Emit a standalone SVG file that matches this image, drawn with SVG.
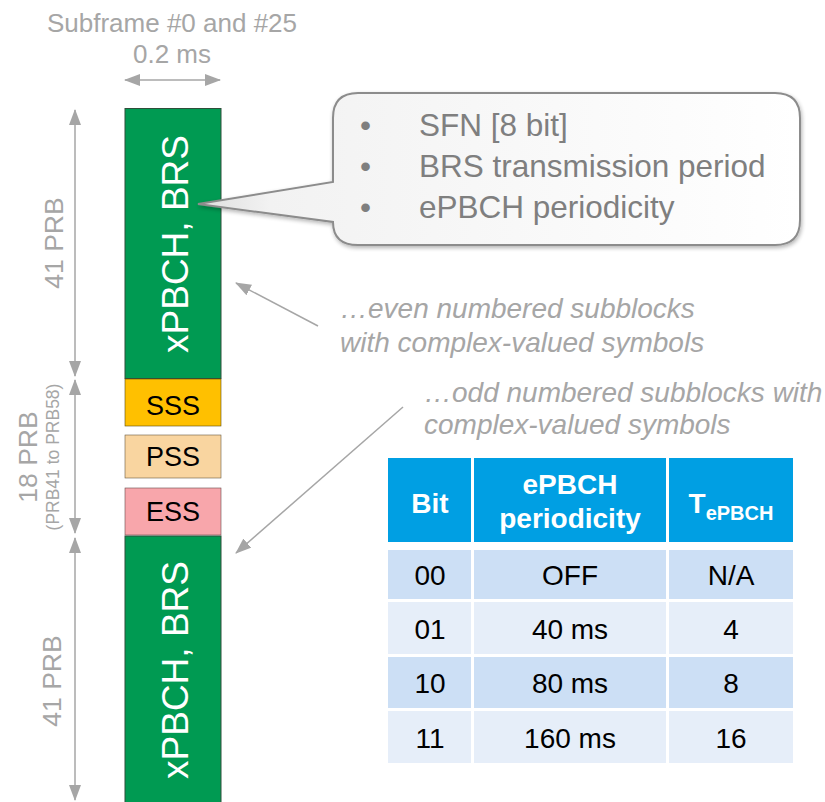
<svg xmlns="http://www.w3.org/2000/svg" width="825" height="802" viewBox="0 0 825 802">
<style>
.dim{fill:#A6A6A6;font-family:"Liberation Sans",Arial,sans-serif}
.dline{stroke:#A6A6A6;stroke-width:1.5;fill:none}
.ann{fill:#A6A6A6;font-family:"Liberation Sans",Arial,sans-serif;font-style:italic;font-size:28px}
.lbl{font-family:"Liberation Sans",Arial,sans-serif}
.green{fill:#009A52;stroke:#2f4f3a;stroke-width:1}
.cell{font-family:"Liberation Sans",Arial,sans-serif;font-size:28px;fill:#000;text-anchor:middle}
.hd{font-family:"Liberation Sans",Arial,sans-serif;font-weight:bold;font-size:28px;fill:#fff;text-anchor:middle}
.co{font-family:"Liberation Sans",Arial,sans-serif;font-size:31.5px;fill:#7F7F7F}
</style>
<defs>
<marker id="ah" viewBox="0 0 16 12" refX="15" refY="6" markerWidth="16" markerHeight="12" markerUnits="userSpaceOnUse" orient="auto-start-reverse">
<path d="M0,0 L16,6 L0,12 Z" fill="#A6A6A6"/>
</marker>
<linearGradient id="cg" x1="0" y1="0" x2="1" y2="0">
<stop offset="0" stop-color="#dedede"/>
<stop offset="0.12" stop-color="#f2f2f2"/>
<stop offset="1" stop-color="#ffffff"/>
</linearGradient>
<filter id="sh" x="-10%" y="-10%" width="120%" height="130%">
<feGaussianBlur in="SourceAlpha" stdDeviation="2"/>
<feOffset dx="1" dy="2" result="b"/>
<feComponentTransfer><feFuncA type="linear" slope="0.3"/></feComponentTransfer>
<feMerge><feMergeNode/><feMergeNode in="SourceGraphic"/></feMerge>
</filter>
</defs>

<g id="header-labels">
<text class="dim" x="172" y="32" font-size="26" text-anchor="middle">Subframe #0 and #25</text>
<text class="dim" x="172" y="63" font-size="26" text-anchor="middle">0.2 ms</text>
</g>

<g id="connectors">
<line class="dline" x1="125" y1="80" x2="220" y2="80" marker-start="url(#ah)" marker-end="url(#ah)"/>
<line class="dline" x1="75" y1="110" x2="75" y2="376" marker-start="url(#ah)" marker-end="url(#ah)"/>
<line class="dline" x1="75" y1="380" x2="75" y2="533" marker-start="url(#ah)" marker-end="url(#ah)"/>
<line class="dline" x1="75" y1="538" x2="75" y2="800" marker-start="url(#ah)" marker-end="url(#ah)"/>
<line class="dline" x1="318" y1="326" x2="236" y2="283" marker-end="url(#ah)"/>
<line class="dline" x1="403" y1="407" x2="236" y2="553" marker-end="url(#ah)"/>
</g>

<g id="dim-labels">
<text class="dim" font-size="26.5" text-anchor="middle" transform="translate(63,243) rotate(-90)">41 PRB</text>
<text class="dim" font-size="26.5" text-anchor="middle" transform="translate(37,457) rotate(-90)">18 PRB</text>
<text class="dim" font-size="17.5" text-anchor="middle" transform="translate(59,457) rotate(-90)">(PRB41 to PRB58)</text>
<text class="dim" font-size="26.5" text-anchor="middle" transform="translate(61,681) rotate(-90)">41 PRB</text>
</g>

<g id="block-top">
<rect class="green" x="125" y="108.5" width="96" height="270"/>
<text class="lbl" font-size="37" fill="#fff" text-anchor="middle" transform="translate(188,244) rotate(-90)">xPBCH, BRS</text>
</g>
<g id="block-sss">
<rect x="125" y="379" width="96" height="47" fill="#FFC000" stroke="#5a4a10" stroke-width="0.6"/>
<text class="lbl" font-size="27" x="173" y="415" text-anchor="middle">SSS</text>
</g>
<g id="block-pss">
<rect x="125" y="435" width="96" height="43" fill="#F9D5A0" stroke="#6a5a40" stroke-width="0.6"/>
<text class="lbl" font-size="27" x="173" y="466" text-anchor="middle">PSS</text>
</g>
<g id="block-ess">
<rect x="125" y="488" width="96" height="47" fill="#F8A6AB" stroke="#6a4a4a" stroke-width="0.6"/>
<text class="lbl" font-size="27" x="173" y="521" text-anchor="middle">ESS</text>
</g>
<g id="block-bottom">
<rect class="green" x="125" y="536" width="96" height="270"/>
<text class="lbl" font-size="37" fill="#fff" text-anchor="middle" transform="translate(188,670) rotate(-90)">xPBCH, BRS</text>
</g>

<g id="callout">
<path d="M198,204 L333,182 L333,118 Q333,93 358,93 L775,93 Q800,93 800,118 L800,220 Q800,245 775,245 L358,245 Q333,245 333,222 Z" fill="url(#cg)" stroke="#8C8C8C" stroke-width="2" filter="url(#sh)"/>
<text class="co" x="360" y="136" font-size="22">•</text>
<text class="co" x="360" y="177" font-size="22">•</text>
<text class="co" x="360" y="218" font-size="22">•</text>
<text class="co" x="419" y="136">SFN [8 bit]</text>
<text class="co" x="419" y="177">BRS transmission period</text>
<text class="co" x="419" y="218">ePBCH periodicity</text>
</g>

<g id="note-even">
<text class="ann" x="340" y="318">…even numbered subblocks</text>
<text class="ann" x="340" y="352">with complex-valued symbols</text>
</g>
<g id="note-odd">
<text class="ann" x="424" y="402">…odd numbered subblocks with</text>
<text class="ann" x="424" y="434">complex-valued symbols</text>
</g>

<g id="table">
<rect x="388" y="458" width="83" height="84" fill="#009FE3"/>
<rect x="474" y="458" width="192" height="84" fill="#009FE3"/>
<rect x="669" y="458" width="124" height="84" fill="#009FE3"/>
<text class="hd" x="430" y="513">Bit</text>
<text class="hd" x="570" y="494">ePBCH</text>
<text class="hd" x="570" y="528">periodicity</text>
<text class="hd" x="731" y="513"><tspan>T</tspan><tspan font-size="20" dy="7">ePBCH</tspan></text>

<rect x="388" y="550" width="83" height="49" fill="#CCDFF5"/>
<rect x="474" y="550" width="192" height="49" fill="#CCDFF5"/>
<rect x="669" y="550" width="124" height="49" fill="#CCDFF5"/>
<rect x="388" y="602" width="83" height="52" fill="#E6EEF9"/>
<rect x="474" y="602" width="192" height="52" fill="#E6EEF9"/>
<rect x="669" y="602" width="124" height="52" fill="#E6EEF9"/>
<rect x="388" y="657" width="83" height="51" fill="#CCDFF5"/>
<rect x="474" y="657" width="192" height="51" fill="#CCDFF5"/>
<rect x="669" y="657" width="124" height="51" fill="#CCDFF5"/>
<rect x="388" y="711" width="83" height="52" fill="#E6EEF9"/>
<rect x="474" y="711" width="192" height="52" fill="#E6EEF9"/>
<rect x="669" y="711" width="124" height="52" fill="#E6EEF9"/>

<text class="cell" x="430" y="585">00</text>
<text class="cell" x="570" y="585">OFF</text>
<text class="cell" x="731" y="585">N/A</text>
<text class="cell" x="430" y="639">01</text>
<text class="cell" x="570" y="639">40 ms</text>
<text class="cell" x="731" y="639">4</text>
<text class="cell" x="430" y="693">10</text>
<text class="cell" x="570" y="693">80 ms</text>
<text class="cell" x="731" y="693">8</text>
<text class="cell" x="430" y="748">11</text>
<text class="cell" x="570" y="748">160 ms</text>
<text class="cell" x="731" y="748">16</text>
</g>
</svg>
